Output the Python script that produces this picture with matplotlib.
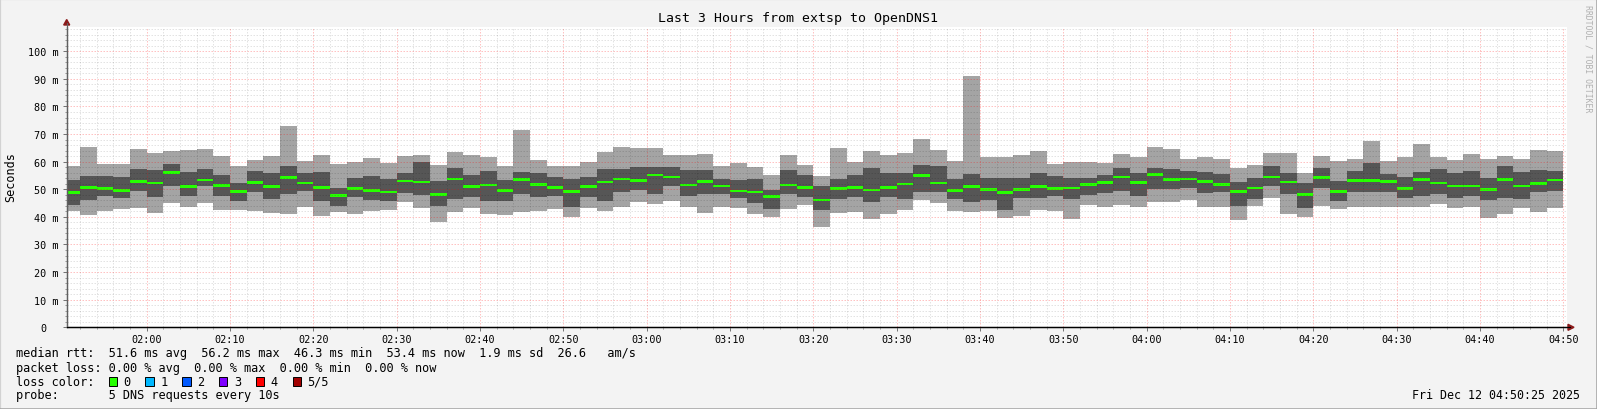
import numpy as np
import matplotlib
matplotlib.use('Agg')
import matplotlib.pyplot as plt
from matplotlib.ticker import FixedLocator, FuncFormatter
from matplotlib.patches import Rectangle, Polygon
from matplotlib.lines import Line2D

W, H = 1597, 410

# smoke per 2 min step (ms): min, 2nd, median, 4th, max of the 5 pings
rtt_max = [58.6, 65.3, 59.3, 59.3, 64.6, 63.2, 63.9, 64.3, 64.6, 62.0,
           58.5, 60.6, 62.1, 73.0, 60.3, 62.4, 59.3, 59.9, 61.4, 59.5,
           62.1, 62.4, 58.8, 63.6, 62.4, 61.7, 58.5, 71.5, 60.6, 58.5,
           58.5, 59.9, 63.6, 65.3, 65.0, 65.0, 62.4, 62.4, 62.8, 58.5,
           59.5, 58.1, 55.2, 62.4, 58.8, 54.8, 65.0, 59.9, 63.9, 62.4,
           63.2, 68.2, 64.3, 60.3, 91.1, 61.7, 61.7, 62.4, 63.9, 59.2,
           59.9, 59.9, 59.5, 62.8, 61.7, 65.3, 64.6, 61.0, 61.7, 61.0,
           57.7, 58.8, 63.2, 63.2, 55.9, 62.1, 60.3, 61.0, 67.5, 60.3,
           61.7, 66.4, 61.7, 60.6, 62.8, 61.0, 62.1, 61.0, 64.3, 63.9]
rtt_q4 = [53.4, 54.8, 54.8, 54.5, 57.4, 57.0, 59.2, 56.3, 57.4, 55.2,
          52.3, 56.6, 55.9, 58.5, 55.9, 56.3, 50.5, 54.1, 54.8, 53.7,
          55.9, 59.9, 53.0, 57.7, 55.2, 56.6, 53.4, 56.3, 55.9, 54.5,
          53.7, 54.5, 57.4, 57.4, 58.1, 58.1, 58.1, 57.0, 57.0, 53.7,
          53.4, 53.7, 49.8, 57.0, 55.2, 51.2, 53.7, 55.2, 57.7, 55.9,
          55.9, 58.8, 58.5, 53.7, 55.6, 54.1, 54.1, 54.1, 55.9, 54.8,
          54.1, 54.1, 55.2, 57.7, 55.9, 57.7, 57.4, 56.6, 56.3, 55.6,
          52.5, 54.1, 58.5, 55.9, 52.3, 57.7, 53.0, 56.6, 59.5, 55.6,
          54.5, 56.3, 57.4, 55.9, 56.6, 54.1, 58.5, 56.3, 57.0, 56.6]
rtt_median = [48.9, 50.6, 50.4, 49.6, 52.9, 52.3, 56.0, 50.9, 53.4, 51.3,
              49.2, 52.5, 50.9, 54.2, 52.3, 50.7, 47.8, 50.4, 49.6, 49.0,
              53.0, 52.7, 48.1, 53.7, 50.9, 51.6, 49.6, 53.5, 51.8, 50.6,
              49.2, 51.1, 52.7, 53.7, 53.3, 55.2, 54.5, 51.6, 52.9, 51.2,
              49.4, 49.0, 47.5, 51.5, 50.7, 46.1, 50.4, 50.7, 49.8, 50.6,
              51.9, 55.0, 52.3, 49.6, 50.9, 50.0, 48.8, 50.0, 50.9, 50.2,
              50.5, 51.7, 52.4, 54.4, 52.4, 55.3, 53.5, 53.7, 52.9, 51.8,
              49.3, 50.5, 54.4, 52.7, 48.2, 54.2, 49.3, 53.3, 53.3, 52.9,
              50.2, 53.5, 52.3, 51.2, 51.2, 49.9, 53.5, 51.2, 52.1, 53.4]
rtt_q2 = [44.3, 46.1, 47.7, 46.9, 49.4, 47.3, 51.2, 47.7, 51.3, 47.7,
          45.9, 49.0, 46.6, 48.3, 49.4, 45.9, 44.1, 47.3, 46.3, 45.9,
          48.8, 48.1, 44.1, 46.5, 47.3, 45.9, 45.9, 48.3, 47.3, 47.7,
          43.7, 47.3, 45.8, 49.0, 49.8, 48.3, 51.3, 47.7, 48.3, 48.3,
          47.0, 45.0, 42.9, 48.3, 47.3, 42.6, 46.5, 47.3, 45.4, 47.3,
          46.5, 49.2, 49.2, 46.5, 45.4, 46.1, 42.6, 47.0, 47.0, 47.7,
          46.5, 47.9, 48.7, 49.4, 47.7, 50.1, 50.1, 50.5, 48.7, 49.0,
          44.1, 46.6, 51.3, 48.3, 43.4, 50.5, 45.8, 49.0, 49.0, 49.0,
          47.0, 47.7, 48.3, 47.0, 47.7, 46.3, 47.0, 46.6, 49.0, 49.5]
rtt_min = [42.3, 40.8, 42.2, 42.9, 43.2, 41.4, 45.0, 43.7, 45.0, 42.6,
           42.6, 42.2, 41.4, 41.2, 43.7, 40.5, 41.6, 41.2, 42.3, 42.6,
           45.5, 43.4, 38.3, 41.9, 43.4, 41.2, 40.8, 41.9, 42.3, 43.0,
           40.1, 43.4, 42.2, 43.7, 45.4, 44.7, 45.8, 43.7, 41.4, 43.7,
           43.4, 41.2, 40.1, 42.9, 44.4, 36.5, 41.4, 41.9, 39.4, 41.2,
           42.6, 46.3, 45.0, 42.2, 41.6, 42.2, 39.7, 40.5, 42.5, 42.2,
           39.4, 44.3, 43.7, 44.4, 43.7, 45.5, 45.5, 46.3, 43.7, 43.7,
           39.0, 44.1, 46.9, 41.2, 40.1, 44.1, 43.0, 43.7, 43.7, 43.7,
           43.7, 43.7, 44.8, 43.4, 43.7, 39.7, 41.2, 43.4, 41.6, 43.4]

loss_labels = ["0", "1", "2", "3", "4", "5/5"]
loss_colors = ["#26ff00", "#00b8ff", "#0059ff", "#7e00ff", "#ff0000", "#a10000"]

legend_lines = [
    "median rtt:  51.6 ms avg  56.2 ms max  46.3 ms min  53.4 ms now  1.9 ms sd  26.6   am/s",
    "packet loss: 0.00 % avg  0.00 % max  0.00 % min  0.00 % now",
    "loss color:",
    "probe:       5 DNS requests every 10s",
]

# time in minutes of the day, window 01:50:25 .. 04:50:25
t_start = 110 + 25 / 60
t_end = 290 + 25 / 60
edges = np.concatenate([[t_start], np.arange(112, 291, 2)])

mono = 'DejaVu Sans Mono'


def fx(x):
    return x / W


def fy(y):
    return 1 - y / H


fig = plt.figure(figsize=(W / 100, H / 100), dpi=100, facecolor='#f3f3f3')
left, right, top, bottom = 66.7, 1566.7, 28.0, 328.3
ax = fig.add_axes([fx(left), fy(bottom), (right - left) / W, (bottom - top) / H])
ax.set_facecolor('white')

rmin = np.array(rtt_min)
rmax = np.array(rtt_max)
q2 = np.array(rtt_q2)
q4 = np.array(rtt_q4)
med = np.array(rtt_median)

ax.stairs(rmax, edges, baseline=rmin, fill=True, color='#a4a4a4', lw=0, zorder=1)
ax.stairs(q4, edges, baseline=q2, fill=True, color='#565656', lw=0, zorder=1.1)
hw = 0.48
ax.stairs(med + hw, edges, baseline=med - hw, fill=True, color=loss_colors[0], lw=0, zorder=1.2)

ax.set_xlim(t_start, t_end)
ax.set_ylim(0, 108.8)

ax.xaxis.set_major_locator(FixedLocator(np.arange(120, 291, 10)))
ax.xaxis.set_minor_locator(FixedLocator([m for m in np.arange(112, 291, 2) if m % 10]))
ax.yaxis.set_major_locator(FixedLocator(np.arange(0, 101, 10)))
ax.yaxis.set_minor_locator(FixedLocator([v for v in np.arange(2, 109, 2) if v % 10]))
ax.xaxis.set_major_formatter(FuncFormatter(lambda m, p: '%02d:%02d' % (int(m) // 60, int(m) % 60)))
ax.yaxis.set_major_formatter(FuncFormatter(lambda v, p: '%d m' % v if v else '0  '))

ax.set_axisbelow(False)
ax.grid(which='minor', color='black', alpha=0.11, lw=0.72, linestyle=(0, (1.5, 1.5)))
ax.grid(which='major', color='#ff0000', alpha=0.24, lw=0.72, linestyle=(0, (1.5, 1.5)))

ax.tick_params(which='major', length=3, width=0.7, color='#707070', labelsize=7.3,
               labelfontfamily=mono)
ax.tick_params(which='minor', length=1.5, width=0.7, color='#909090')
ax.tick_params(axis='y', pad=2.6)
ax.tick_params(axis='x', pad=1.8)

for s in ['top', 'right']:
    ax.spines[s].set_visible(False)
ax.spines['left'].set_color('#606060')
ax.spines['bottom'].set_color('black')
ax.spines['left'].set_linewidth(1)
ax.spines['bottom'].set_linewidth(1)

# axis extensions and arrows
fig.add_artist(Line2D([fx(left), fx(left)], [fy(bottom), fy(24)], color='#606060', lw=0.8))
fig.add_artist(Line2D([fx(left), fx(1570)], [fy(bottom), fy(bottom)], color='black', lw=0.8))
fig.add_artist(Polygon([(fx(left - 3), fy(26)), (fx(left + 3), fy(26)), (fx(left), fy(20.5))],
                       closed=True, color='#8b1a1a', transform=fig.transFigure))
fig.add_artist(Polygon([(fx(1568), fy(bottom - 3)), (fx(1568), fy(bottom + 3)), (fx(1574), fy(bottom))],
                       closed=True, color='#8b1a1a', transform=fig.transFigure))

# frame of the picture
fig.add_artist(Line2D([0, 0, 1], [0, 1, 1], color='#d2d2d2', lw=1.6, transform=fig.transFigure))
fig.add_artist(Line2D([0, 1, 1], [0, 0, 1], color='#a0a0a0', lw=1.8, transform=fig.transFigure))

fig.text(0.5, fy(18.3), 'Last 3 Hours from extsp to OpenDNS1', ha='center', va='center',
         family=mono, size=9.5)
fig.text(fx(10.5), fy(177), 'Seconds', rotation=90, ha='center', va='center',
         family=mono, size=8.5)
fig.text(fx(1588), fy(59), 'RRDTOOL / TOBI OETIKER', rotation=270, ha='center', va='center',
         family=mono, size=5.9, color='#b0b0b0')

ys = [354, 368.3, 382.3, 396]
for y, s in zip(ys, legend_lines):
    fig.text(fx(16), fy(y), s, ha='left', va='center', family=mono, size=8.55)

for i, (lab, col) in enumerate(zip(loss_labels, loss_colors)):
    bx = 108.5 + 36.8 * i
    fig.add_artist(Rectangle((fx(bx), fy(386.5)), 8.5 / W, 8.5 / H, facecolor=col,
                             edgecolor='black', lw=0.7, transform=fig.transFigure))
    fig.text(fx(bx + 15), fy(382.3), lab, ha='left', va='center', family=mono, size=8.55)

fig.text(fx(1580), fy(396), 'Fri Dec 12 04:50:25 2025', ha='right', va='center',
         family=mono, size=8.4)

fig.savefig('out.png', dpi=100, facecolor=fig.get_facecolor())
